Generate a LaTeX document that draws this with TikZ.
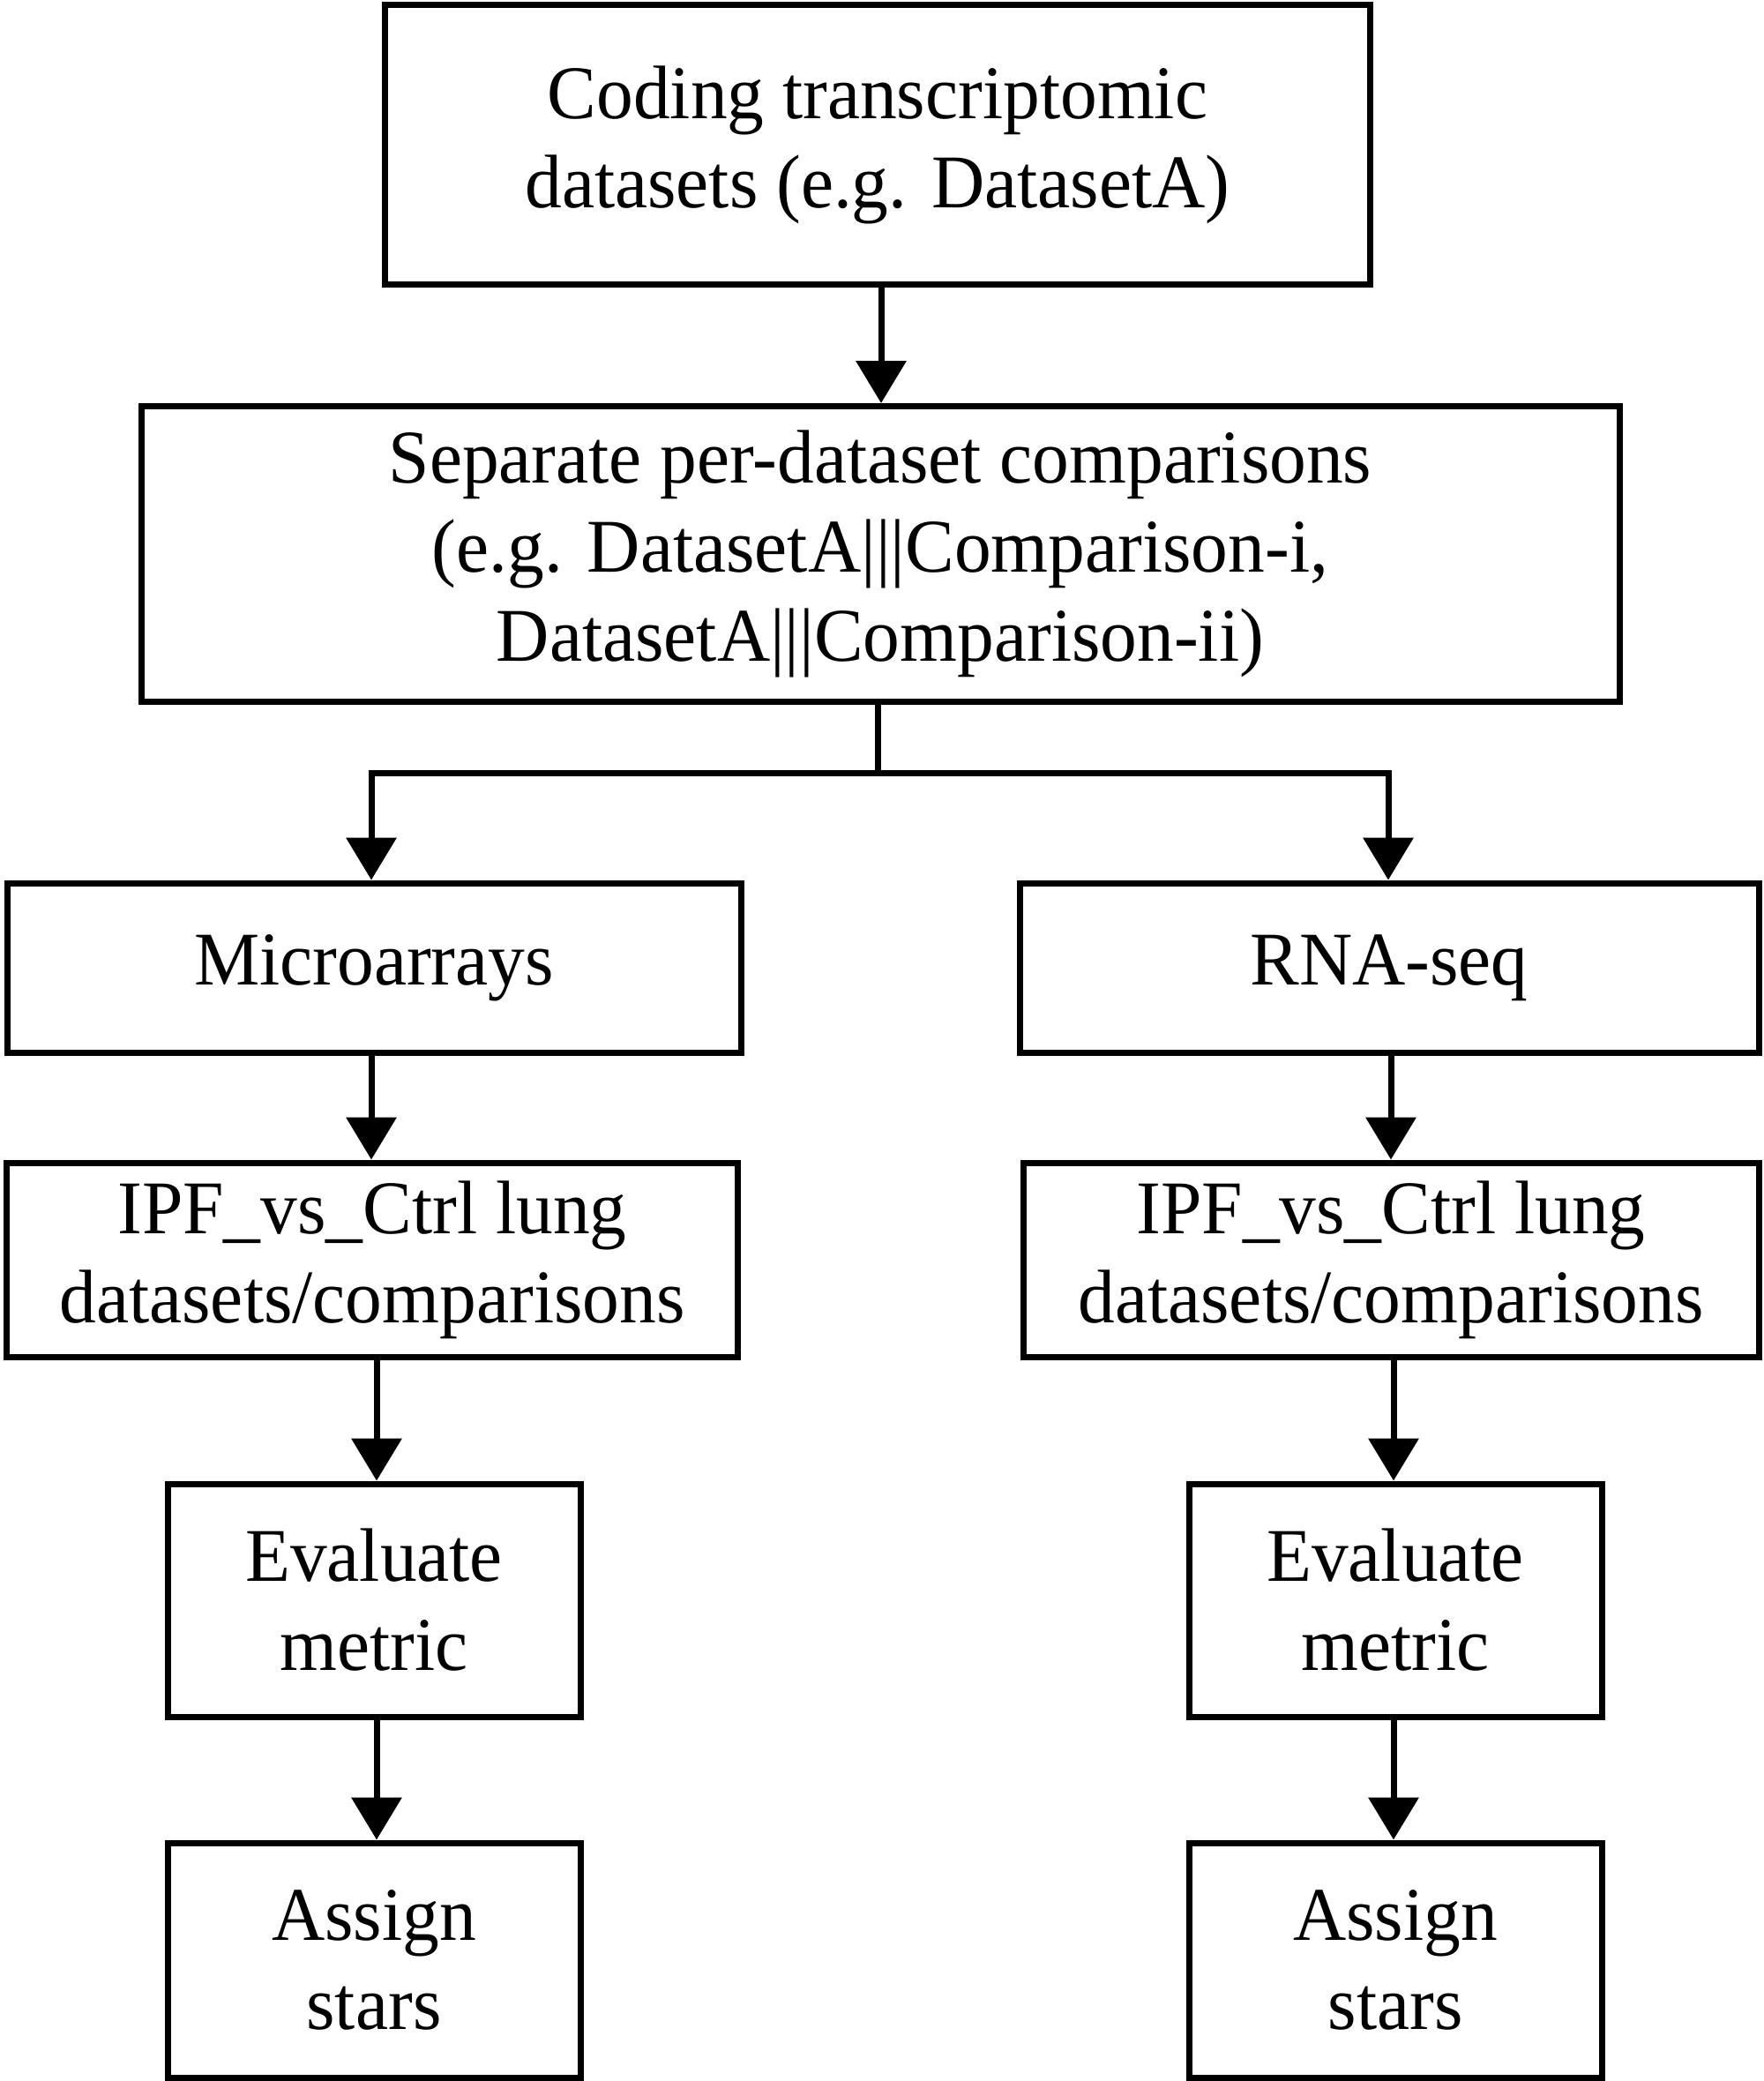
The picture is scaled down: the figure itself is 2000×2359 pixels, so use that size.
\documentclass[tikz,border=0pt]{standalone}
\usepackage{fontspec}
\setmainfont[FakeStretch=0.97]{Liberation Serif}
\usetikzlibrary{arrows.meta}
\begin{document}
\begin{tikzpicture}[
		x=0.25pt, y=-0.25pt,
		box/.style={draw=black, line width=1.75pt, align=center, inner sep=0pt,
			font=\fontsize{21.5}{25.25}\selectfont},
		link/.style={line width=1.75pt, -{Triangle[width=14pt, length=12pt]}}
		]
	\useasboundingbox (0,0) rectangle (2000,2359);
	% top part
	\node [box, minimum width=1117*0.25pt, minimum height=317*0.25pt] (coding) at (995,164)
		{Coding transcriptomic\\datasets (e.g. DatasetA)};
	\node [box, minimum width=1676*0.25pt, minimum height=335*0.25pt] (separate) at (998,628)
		{Separate per-dataset comparisons\\(e.g. DatasetA|||Comparison-i,\\DatasetA|||Comparison-ii)};
	% two branches
	\node [box, minimum width=832*0.25pt, minimum height=192*0.25pt] (micro) at (424,1097) {Microarrays};
	\node [box, minimum width=838*0.25pt, minimum height=192*0.25pt] (rnaseq) at (1575,1097) {RNA-seq};
	\node [box, minimum width=829*0.25pt, minimum height=220*0.25pt] (ipfmicro) at (422,1428)
		{IPF\_vs\_Ctrl lung\\datasets/comparisons};
	\node [box, minimum width=834*0.25pt, minimum height=220*0.25pt] (ipfrna) at (1577,1428)
		{IPF\_vs\_Ctrl lung\\datasets/comparisons};
	\node [box, minimum width=468*0.25pt, minimum height=264*0.25pt] (evalmicro) at (424,1814)
		{Evaluate\\metric};
	\node [box, minimum width=468*0.25pt, minimum height=264*0.25pt] (evalrna) at (1582,1814)
		{Evaluate\\metric};
	\node [box, minimum width=468*0.25pt, minimum height=266*0.25pt] (starsmicro) at (424,2222)
		{Assign\\stars};
	\node [box, minimum width=468*0.25pt, minimum height=266*0.25pt] (starsrna) at (1582,2222)
		{Assign\\stars};
	% connectors
	\coordinate (split) at (995,876);
	\draw [link] (coding.south -| 999,0) -- (separate.north -| 999,0);
	\draw [line width=1.75pt] (separate.south -| split) -- (split);
	\draw [link] (split) -| (micro.north -| 421,0);
	\draw [link] (split) -| (rnaseq.north -| 1574,0);
	\draw [link] (micro.south -| 421,0) -- (ipfmicro.north -| 421,0);
	\draw [link] (rnaseq.south -| 1577,0) -- (ipfrna.north -| 1577,0);
	\draw [link] (ipfmicro.south -| 427,0) -- (evalmicro.north -| 427,0);
	\draw [link] (ipfrna.south -| 1580,0) -- (evalrna.north -| 1580,0);
	\draw [link] (evalmicro.south -| 427,0) -- (starsmicro.north -| 427,0);
	\draw [link] (evalrna.south -| 1580,0) -- (starsrna.north -| 1580,0);
\end{tikzpicture}
\end{document}
